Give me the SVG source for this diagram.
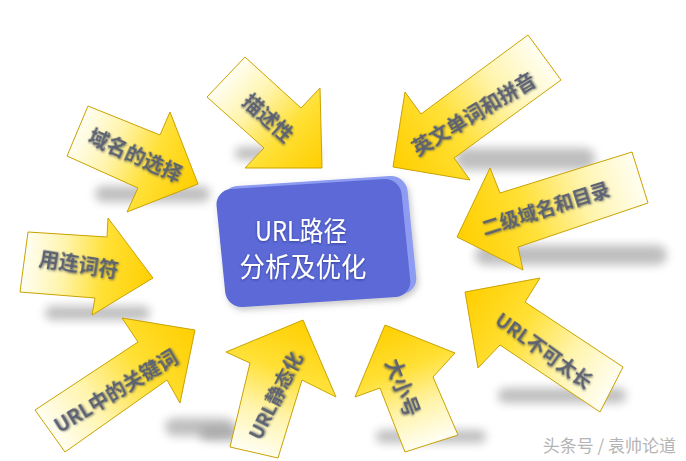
<svg xmlns="http://www.w3.org/2000/svg" width="686" height="461" viewBox="0 0 686 461">
<style>
.arrow{stroke:#caa200;stroke-width:1;stroke-linejoin:miter}
.lbl{font-family:"Noto Sans CJK SC","Noto Sans",sans-serif;font-weight:700;fill:#5c6272;text-anchor:middle;dominant-baseline:central;filter:url(#tshadow)}
.shadow{fill:#8a8a8a;opacity:.55;filter:url(#blur)}
.title{font-family:"Noto Sans CJK SC","Noto Sans",sans-serif;font-size:27px;fill:#ffffff;text-anchor:middle;filter:url(#wshadow)}
.wm{font-family:"Noto Sans CJK SC","Noto Sans",sans-serif;font-size:17px;fill:#b4b4b4;text-anchor:end}
</style>
<defs>
<filter id="blur" x="-30%" y="-100%" width="160%" height="300%"><feGaussianBlur stdDeviation="5"/></filter>
<filter id="tshadow" x="-20%" y="-50%" width="140%" height="200%"><feDropShadow dx="1" dy="1" stdDeviation="0.8" flood-color="#3a3f4a" flood-opacity="0.6"/></filter>
<filter id="wshadow" x="-20%" y="-50%" width="140%" height="200%"><feDropShadow dx="0" dy="1" stdDeviation="1" flood-color="#2a3080" flood-opacity="0.7"/></filter>
<filter id="bshadow" x="-20%" y="-20%" width="140%" height="140%"><feDropShadow dx="2" dy="3" stdDeviation="3" flood-color="#606060" flood-opacity="0.35"/></filter>
<linearGradient id="gb">
<stop offset="0" stop-color="#fffef2"/>
<stop offset="0.3" stop-color="#fff4ac"/>
<stop offset="0.62" stop-color="#ffe035"/>
<stop offset="1" stop-color="#ffcf00"/>
</linearGradient>
<linearGradient id="g1" href="#gb" gradientUnits="userSpaceOnUse" x1="77" y1="131" x2="198" y2="184"/>
<linearGradient id="g2" href="#gb" gradientUnits="userSpaceOnUse" x1="226" y1="77" x2="322" y2="168"/>
<linearGradient id="g3" href="#gb" gradientUnits="userSpaceOnUse" x1="544" y1="57" x2="393" y2="167"/>
<linearGradient id="g4" href="#gb" gradientUnits="userSpaceOnUse" x1="640" y1="177" x2="457" y2="237"/>
<linearGradient id="g5" href="#gb" gradientUnits="userSpaceOnUse" x1="611" y1="389" x2="465" y2="292"/>
<linearGradient id="g6" href="#gb" gradientUnits="userSpaceOnUse" x1="431" y1="443" x2="385" y2="325"/>
<linearGradient id="g7" href="#gb" gradientUnits="userSpaceOnUse" x1="254" y1="452" x2="303" y2="320"/>
<linearGradient id="g8" href="#gb" gradientUnits="userSpaceOnUse" x1="50" y1="431" x2="195" y2="330"/>
<linearGradient id="g9" href="#gb" gradientUnits="userSpaceOnUse" x1="24" y1="262" x2="153" y2="278"/>
</defs>
<rect width="686" height="461" fill="#ffffff"/>

<g id="shadows">
<rect class="shadow" x="95" y="186" width="115" height="16" rx="8"/>
<rect class="shadow" x="235" y="147" width="85" height="13" rx="6"/>
<rect class="shadow" x="455" y="148" width="140" height="22" rx="10"/>
<rect class="shadow" x="475" y="245" width="192" height="20" rx="10"/>
<rect class="shadow" x="45" y="306" width="105" height="14" rx="7"/>
<rect class="shadow" x="165" y="418" width="70" height="18" rx="9"/>
<rect class="shadow" x="200" y="428" width="70" height="13" rx="6"/>
<rect class="shadow" x="376" y="430" width="110" height="13" rx="6"/>
<rect class="shadow" x="498" y="388" width="128" height="15" rx="7"/>
</g>

<g id="center" filter="url(#bshadow)">
<rect x="0" y="0" width="185" height="118" rx="16" fill="#8d9bf0" transform="matrix(1,-0.065,0.1,1,221,187)"/>
<rect x="0" y="0" width="185" height="118" rx="16" fill="#5b69d6" transform="matrix(1,-0.065,0.1,1,215,190)"/>
<text class="title" x="301" y="241" textLength="92" lengthAdjust="spacingAndGlyphs">URL路径</text>
<text class="title" x="303" y="277" textLength="127" lengthAdjust="spacingAndGlyphs">分析及优化</text>
</g>

<g id="arrow-domain">
<polygon class="arrow" fill="url(#g1)" points="88,106 160,135 170,112 198,184 127,212 138,188 67,156"/>
<text class="lbl" font-size="20" transform="translate(136,154) rotate(24)">域名的选择</text>
</g>

<g id="arrow-describe">
<polygon class="arrow" fill="url(#g2)" points="207,97 245,57 301,108 320,88 322,168 245,168 264,148"/>
<text class="lbl" font-size="20" transform="translate(269,117) rotate(42)">描述性</text>
</g>

<g id="arrow-english">
<polygon class="arrow" fill="url(#g3)" points="528,35 561,80 454,158 470,180 393,167 405,92 421,114"/>
<text class="lbl" font-size="20" transform="translate(473,113) rotate(-31)">英文单词和拼音</text>
</g>

<g id="arrow-subdomain">
<polygon class="arrow" fill="url(#g4)" points="632,152 648,203 518,247 523,270 457,237 490,168 500,193"/>
<text class="lbl" font-size="19" transform="translate(545,207) rotate(-17.6)">二级域名和目录</text>
</g>

<g id="arrow-length">
<polygon class="arrow" fill="url(#g5)" points="465,292 540,278 525,302 623,367 600,412 500,345 478,368"/>
<text class="lbl" font-size="19" transform="translate(545,349) rotate(36)">URL不可太长</text>
</g>

<g id="arrow-case">
<polygon class="arrow" fill="url(#g6)" points="385,325 455,353 433,377 458,435 405,452 380,388 355,397"/>
<text class="lbl" font-size="20" transform="translate(404,387) rotate(69)">大小号</text>
</g>

<g id="arrow-static">
<polygon class="arrow" fill="url(#g7)" points="303,320 336,397 302,380 278,458 230,447 250,363 226,352"/>
<text class="lbl" font-size="19" transform="translate(274,395) rotate(-63)">URL静态化</text>
</g>

<g id="arrow-keyword">
<polygon class="arrow" fill="url(#g8)" points="195,330 180,403 167,380 65,452 35,410 138,342 122,318"/>
<text class="lbl" font-size="20" transform="translate(115,390) rotate(-31)">URL中的关键词</text>
</g>

<g id="arrow-hyphen">
<polygon class="arrow" fill="url(#g9)" points="28,232 107,237 108,218 153,278 92,315 95,298 20,292"/>
<text class="lbl" font-size="20" transform="translate(79,263) rotate(9)">用连词符</text>
</g>

<text class="wm" x="676" y="452">头条号 / 袁帅论道</text>
</svg>
